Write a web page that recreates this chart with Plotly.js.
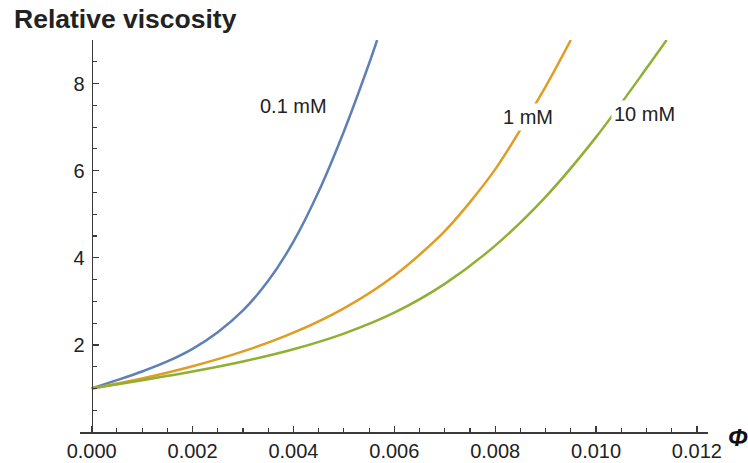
<!DOCTYPE html>
<html>
<head>
<meta charset="utf-8">
<script src="https://cdn.plot.ly/plotly-3.0.1.min.js"></script>
<style>html,body{margin:0;padding:0;background:#fff;}#chart{width:748px;height:463px;}</style>
</head>
<body>
<div id="chart"></div>
<script>
// Relative viscosity vs volume fraction (phi) for three salt concentrations
const seriesNames = ["0.1 mM", "1 mM", "10 mM"];

const phi01 = [0, 0.0005, 0.001, 0.0015, 0.002, 0.0025, 0.003, 0.0035, 0.004, 0.0045, 0.005, 0.0055, 0.00566];
const visc01 = [1, 1.19, 1.39, 1.62, 1.91, 2.29, 2.79, 3.47, 4.37, 5.52, 6.90, 8.46, 9.0];

const phi1 = [0, 0.001, 0.002, 0.003, 0.004, 0.005, 0.006, 0.007, 0.008, 0.009, 0.0095];
const visc1 = [1, 1.23, 1.51, 1.85, 2.28, 2.84, 3.59, 4.61, 6.03, 7.93, 9.0];

const phi10 = [0, 0.001, 0.002, 0.003, 0.004, 0.005, 0.006, 0.007, 0.008, 0.009, 0.010, 0.011, 0.0114];
const visc10 = [1, 1.19, 1.39, 1.62, 1.9, 2.26, 2.74, 3.40, 4.28, 5.40, 6.77, 8.35, 9.0];

const xTickVals = [0, 0.002, 0.004, 0.006, 0.008, 0.010, 0.012];
const xTickText = ["0.000", "0.002", "0.004", "0.006", "0.008", "0.010", "0.012"];
const yTickVals = [0, 2, 4, 6, 8];
const yTickText = ["", "2", "4", "6", "8"];

// label anchor points (data coords)
const labelX = [0.004011, 0.008641, 0.010951];
const labelY = [7.48, 7.236, 7.31];

const colors = ["#5E81B5", "#E19C24", "#8FB032"];
const font = "Liberation Sans, Arial, Helvetica, sans-serif";
const axisColor = "#3a3a3a";

const xs = [phi01, phi1, phi10];
const ys = [visc01, visc1, visc10];

const traces = xs.map((x, i) => ({
  x: x, y: ys[i], type: "scatter", mode: "lines",
  line: {color: colors[i], width: 2.5, shape: "spline", smoothing: 0.8},
  name: seriesNames[i], hoverinfo: "skip"
}));

const xmin = -0.000232, xmax = 0.01222;

const annotations = seriesNames.map((n, i) => ({
  x: labelX[i], y: labelY[i], xref: "x", yref: "y", text: n, showarrow: false,
  font: {family: font, size: 20, color: "#222"}, bgcolor: "#ffffff", borderpad: 2,
  xanchor: "center", yanchor: "middle"
}));
annotations.push({
  x: (12 - 80) / 628, y: (432 - 19) / 392, xref: "paper", yref: "paper",
  text: "<b>Relative viscosity</b>", showarrow: false, xanchor: "left", yanchor: "middle",
  font: {family: font, size: 26.5, color: "#222"}
});
annotations.push({
  x: (738 - 80) / 628, y: (432 - 437) / 392, xref: "paper", yref: "paper",
  text: "<b><i>Φ</i></b>", showarrow: false, xanchor: "center", yanchor: "middle",
  font: {family: font, size: 24, color: "#111"}
});

const layout = {
  width: 748, height: 463,
  margin: {l: 80, r: 40, t: 40, b: 31, pad: 0},
  paper_bgcolor: "#fff", plot_bgcolor: "#fff",
  showlegend: false, hovermode: false,
  xaxis: {
    range: [xmin, xmax], showgrid: false, zeroline: false,
    showline: true, linecolor: axisColor, linewidth: 1.6,
    ticks: "inside", ticklen: 6, tickwidth: 1.3, tickcolor: axisColor,
    tickmode: "array", tickvals: xTickVals, ticktext: xTickText,
    tickfont: {family: font, size: 20, color: "#222"},
    minor: {tick0: 0, dtick: 0.0005, ticks: "inside", ticklen: 4, tickwidth: 1.1, tickcolor: axisColor, showgrid: false}
  },
  yaxis: {
    range: [0, 9], showgrid: false, zeroline: false,
    anchor: "free", position: (0 - xmin) / (xmax - xmin),
    showline: true, linecolor: axisColor, linewidth: 1.6,
    ticks: "inside", ticklen: 6, tickwidth: 1.3, tickcolor: axisColor,
    tickmode: "array", tickvals: yTickVals, ticktext: yTickText,
    ticklabelstandoff: 3,
    tickfont: {family: font, size: 20, color: "#222"},
    minor: {tick0: 0, dtick: 0.5, ticks: "inside", ticklen: 4, tickwidth: 1.1, tickcolor: axisColor, showgrid: false}
  },
  annotations: annotations
};

Plotly.newPlot("chart", traces, layout, {staticPlot: true, displayModeBar: false});
</script>
</body>
</html>
